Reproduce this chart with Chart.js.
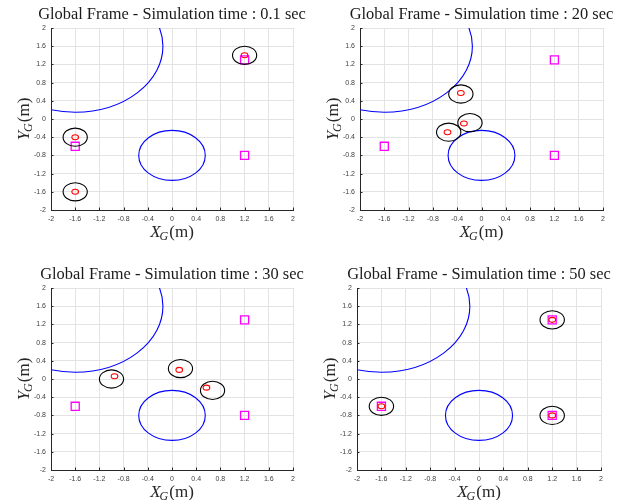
<!DOCTYPE html>
<html>
<head>
<meta charset="utf-8">
<script src="https://cdn.jsdelivr.net/npm/chart.js@4.4.1/dist/chart.umd.min.js"></script>
<style>
  html, body { margin: 0; padding: 0; background: #fff; }
  #wrap { position: relative; width: 636px; height: 500px; }
  #wrap canvas { position: absolute; }
</style>
</head>
<body>
<div id="wrap">
  <canvas id="c0" width="318" height="250" style="left:0;top:0"></canvas>
  <canvas id="c1" width="318" height="250" style="left:318px;top:0"></canvas>
  <canvas id="c2" width="318" height="250" style="left:0;top:250px"></canvas>
  <canvas id="c3" width="318" height="250" style="left:318px;top:250px"></canvas>
</div>
<script>
// snapshot times (one panel each)
const simTimes = ["0.1", "20", "30", "50"];
const axisTicks = [-2, -1.6, -1.2, -0.8, -0.4, 0, 0.4, 0.8, 1.2, 1.6, 2];

// static obstacles (blue circles): centre + radius, in metres
const obstacleX = [-1.6, 0];
const obstacleY = [1.6, -0.8];
const obstacleR = [1.45, 0.55];

// goal positions (magenta squares)
const goalX = [1.2, -1.6, 1.2];
const goalY = [1.3, -0.6, -0.8];

// robot bodies (black circles), one row per snapshot
const robotR = 0.2;
const robotX = [
  [-1.6, -1.6, 1.2],
  [-0.34, -0.19, -0.54],
  [-1.0, 0.14, 0.67],
  [1.2, -1.6, 1.2],
];
const robotY = [
  [-0.4, -1.6, 1.4],
  [0.55, -0.08, -0.29],
  [0.0, 0.23, -0.25],
  [1.3, -0.6, -0.8],
];

// robot heading markers (small red circles)
const markR = 0.055;
const markX = [
  [-1.6, -1.6, 1.2],
  [-0.34, -0.29, -0.56],
  [-0.95, 0.12, 0.57],
  [1.2, -1.6, 1.2],
];
const markY = [
  [-0.4, -1.6, 1.4],
  [0.57, -0.1, -0.29],
  [0.06, 0.2, -0.19],
  [1.3, -0.6, -0.8],
];

// axis label pieces
const xLabel = ["X", "G", "(m)"];
const yLabel = ["Y", "G", "(m)"];

// where each panel's plot box sits inside its 318x250 canvas
const panelLayout = [
  { left: 51, right: 25, top: 28, bottom: 40 },
  { left: 42, right: 33, top: 28, bottom: 40 },
  { left: 51, right: 25, top: 38, bottom: 30 },
  { left: 39, right: 35, top: 38, bottom: 30 },
];

const SERIF = "'Liberation Serif', 'DejaVu Serif', serif";

function ellipse(ctx, xs, ys, cx, cy, r, color) {
  const px = xs.getPixelForValue(cx);
  const py = ys.getPixelForValue(cy);
  const rx = Math.abs(xs.getPixelForValue(cx + r) - px);
  const ry = Math.abs(ys.getPixelForValue(cy + r) - py);
  ctx.beginPath();
  ctx.ellipse(px, py, rx, ry, 0, 0, Math.PI * 2);
  ctx.strokeStyle = color;
  ctx.stroke();
}

function subLabel(ctx, parts, x, y, rotate) {
  const big = "italic 17px " + SERIF;
  const small = "italic 12px " + SERIF;
  const tail = "17px " + SERIF;
  ctx.save();
  ctx.translate(x, y);
  if (rotate) ctx.rotate(-Math.PI / 2);
  ctx.fillStyle = "#262626";
  ctx.textBaseline = "alphabetic";
  ctx.font = big; const w0 = ctx.measureText(parts[0]).width;
  ctx.font = small; const w1 = ctx.measureText(parts[1]).width;
  ctx.font = tail; const w2 = ctx.measureText(parts[2]).width;
  let cx = -(w0 + w1 + w2) / 2;
  ctx.font = big; ctx.fillText(parts[0], cx, 6); cx += w0;
  ctx.font = small; ctx.fillText(parts[1], cx - 1, 9); cx += w1;
  ctx.font = tail; ctx.fillText(parts[2], cx, 6);
  ctx.restore();
}

// obstacles, robots, markers, titles and labels drawn through the chart scales
const framePlugin = {
  id: "frame",
  afterDatasetsDraw(chart, args, opts) {
    const i = opts.panel;
    const { ctx, chartArea: a } = chart;
    const xs = chart.scales.x, ys = chart.scales.y;
    ctx.save();
    ctx.beginPath();
    ctx.rect(a.left, a.top, a.right - a.left, a.bottom - a.top);
    ctx.clip();
    ctx.lineWidth = 1.1;
    obstacleX.forEach((v, k) => ellipse(ctx, xs, ys, v, obstacleY[k], obstacleR[k], "#0000ff"));
    robotX[i].forEach((v, k) => ellipse(ctx, xs, ys, v, robotY[i][k], robotR, "#000000"));
    markX[i].forEach((v, k) => ellipse(ctx, xs, ys, v, markY[i][k], markR, "#ff0000"));
    ctx.restore();
  },
  afterDraw(chart, args, opts) {
    const i = opts.panel;
    const { ctx, chartArea: a } = chart;
    const xs = chart.scales.x, ys = chart.scales.y;
    ctx.save();
    // inward tick marks on left and bottom axes
    ctx.strokeStyle = "#262626";
    ctx.lineWidth = 1;
    ctx.beginPath();
    axisTicks.forEach(v => {
      const px = Math.round(xs.getPixelForValue(v)) + 0.5;
      ctx.moveTo(px, a.bottom); ctx.lineTo(px, a.bottom - 2.5);
      const py = Math.round(ys.getPixelForValue(v)) + 0.5;
      ctx.moveTo(a.left, py); ctx.lineTo(a.left + 2.5, py);
    });
    ctx.stroke();
    // title
    ctx.fillStyle = "#1a1a1a";
    ctx.font = "16.4px " + SERIF;
    ctx.textAlign = "center";
    ctx.textBaseline = "middle";
    ctx.fillText("Global Frame - Simulation time : " + simTimes[i] + " sec",
      (a.left + a.right) / 2, a.top - 13);
    ctx.restore();
    subLabel(ctx, xLabel, (a.left + a.right) / 2, a.bottom + 21, false);
    subLabel(ctx, yLabel, a.left - 28, (a.top + a.bottom) / 2, true);
  },
};

function tickScale(axisH, isX) {
  return {
    type: "linear",
    min: -2,
    max: 2,
    afterBuildTicks: s => { s.ticks = axisTicks.map(v => ({ value: v })); },
    afterFit: s => { if (isX) s.height = axisH; else s.width = axisH; },
    grid: { color: "#e3e3e3", drawTicks: false },
    border: { color: "#262626", width: 1 },
    ticks: {
      padding: 5,
      autoSkip: false,
      maxRotation: 0,
      color: "#404040",
      font: { family: "'Liberation Sans', Arial, sans-serif", size: 7 },
      callback: v => String(v),
    },
  };
}

simTimes.forEach((t, i) => {
  const L = panelLayout[i];
  new Chart(document.getElementById("c" + i), {
    type: "scatter",
    data: {
      datasets: [
        {
          label: "goal",
          data: goalX.map((x, k) => ({ x, y: goalY[k] })),
          pointStyle: "rect",
          pointRadius: 5.7,
          borderColor: "#ff00ff",
          backgroundColor: "rgba(0,0,0,0)",
          borderWidth: 1.3,
        },
      ],
    },
    options: {
      responsive: false,
      animation: false,
      layout: { padding: { left: 0, right: L.right, top: L.top, bottom: 0 } },
      plugins: {
        legend: { display: false },
        tooltip: { enabled: false },
        frame: { panel: i },
      },
      scales: {
        x: tickScale(L.bottom, true),
        y: tickScale(L.left, false),
      },
    },
    plugins: [framePlugin],
  });
});
</script>
</body>
</html>
